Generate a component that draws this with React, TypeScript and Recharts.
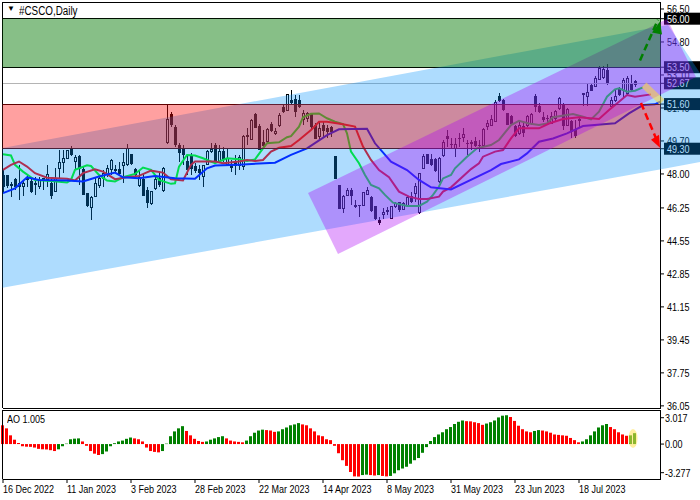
import { Area, Bar, Cell, ComposedChart, Line, ReferenceDot, ReferenceLine, XAxis, YAxis } from "recharts";

const opens = [
  47.90, 47.90, 47.44, 47.69, 47.52, 47.35, 47.78, 47.61, 47.50, 47.35,
  47.75, 47.69, 47.49, 47.09, 48.26, 48.59, 48.79, 49.24, 48.64, 48.90,
  48.21, 46.97, 46.27, 46.84, 47.40, 47.78, 47.95, 48.21, 48.24, 48.21,
  48.41, 48.47, 48.98, 48.24, 47.39, 47.69, 47.13, 46.49, 47.23, 47.78,
  47.13, 49.63, 51.04, 50.39, 49.45, 49.33, 48.64, 48.90, 48.38, 48.21,
  47.87, 48.47, 49.14, 49.45, 48.64, 49.15, 48.47, 48.47, 48.63, 48.41,
  48.38, 49.97, 49.78, 51.04, 50.47, 49.61, 49.66, 50.57, 50.06, 50.50,
  51.41, 51.29, 51.78, 51.84, 51.76, 50.78, 50.87, 51.04, 50.52, 49.92,
  50.52, 50.35, 50.38, 48.92, 47.40, 46.23, 46.91, 47.17, 46.36, 46.38,
  46.40, 46.95, 46.79, 46.31, 45.59, 45.92, 46.06, 45.71, 46.31, 46.52,
  46.18, 46.35, 46.86, 47.00, 46.00, 48.29, 48.98, 48.75, 48.72, 47.60,
  48.97, 49.92, 49.53, 49.32, 49.83, 49.89, 49.58, 49.62, 49.66, 49.49,
  49.49, 50.47, 50.52, 50.69, 51.98, 51.76, 51.12, 50.95, 50.43, 50.09,
  50.47, 50.52, 50.61, 51.98, 51.50, 50.90, 50.87, 50.61, 50.87, 51.38,
  51.55, 50.52, 50.69, 50.30, 50.78, 52.12, 51.98, 52.58, 52.50, 52.89,
  52.97, 53.35, 51.50, 51.81, 52.41, 52.32, 52.15, 52.63, 52.75,
];
const highs = [
  48.21, 47.95, 47.61, 47.78, 48.47, 47.69, 47.95, 47.78, 47.83, 47.83,
  47.78, 48.47, 47.78, 48.29, 49.24, 49.24, 49.24, 49.44, 48.98, 48.98,
  48.38, 47.01, 46.84, 47.78, 47.90, 48.21, 48.47, 48.76, 48.47, 48.62,
  49.07, 49.53, 49.04, 48.33, 48.21, 48.04, 47.35, 47.13, 47.83, 48.12,
  48.38, 51.56, 51.20, 50.53, 49.58, 49.50, 48.98, 49.07, 48.55, 48.47,
  48.47, 49.24, 49.58, 49.58, 49.50, 49.41, 49.33, 48.72, 48.98, 48.98,
  50.00, 50.35, 50.81, 51.12, 50.55, 50.26, 50.35, 50.69, 50.35, 51.12,
  51.55, 52.12, 52.32, 52.07, 52.07, 51.29, 51.21, 51.12, 50.61, 50.69,
  50.69, 50.52, 50.47, 48.92, 47.43, 46.92, 47.26, 47.26, 46.66, 46.40,
  47.09, 47.31, 46.86, 46.35, 45.76, 46.23, 46.31, 46.35, 46.57, 46.57,
  46.57, 46.92, 47.09, 47.52, 48.03, 49.03, 49.03, 49.03, 48.82, 48.86,
  49.75, 50.26, 49.83, 49.83, 50.09, 50.35, 49.75, 49.75, 49.89, 49.75,
  50.35, 50.78, 51.04, 51.81, 52.15, 51.84, 51.16, 51.04, 50.52, 50.69,
  50.69, 51.04, 51.12, 52.10, 51.64, 51.21, 51.04, 51.21, 51.29, 51.98,
  51.64, 51.38, 50.78, 50.78, 50.95, 52.18, 52.63, 52.67, 53.04, 53.56,
  53.56, 53.66, 51.98, 52.30, 52.50, 52.92, 53.04, 53.10, 52.84,
];
const lows = [
  47.01, 47.27, 46.80, 47.18, 46.66, 46.84, 47.35, 47.00, 46.92, 47.25,
  47.18, 47.35, 46.70, 47.09, 47.78, 48.04, 48.76, 48.90, 48.21, 47.44,
  46.92, 46.32, 45.63, 46.84, 47.27, 47.35, 47.83, 47.95, 48.04, 47.87,
  47.52, 48.42, 48.47, 47.87, 47.35, 46.84, 46.23, 46.40, 47.18, 47.35,
  47.08, 49.55, 50.44, 49.41, 48.64, 48.47, 47.95, 47.95, 48.04, 47.69,
  47.35, 48.47, 49.07, 48.55, 48.55, 48.64, 48.47, 48.12, 47.95, 48.20,
  48.20, 49.49, 49.75, 50.35, 49.27, 49.27, 49.58, 50.18, 50.00, 50.44,
  51.12, 51.26, 51.60, 50.95, 51.38, 50.52, 50.69, 50.26, 49.78, 49.78,
  49.92, 49.83, 49.92, 47.72, 46.18, 45.97, 46.88, 46.40, 46.23, 45.76,
  46.35, 46.92, 46.06, 45.63, 45.35, 45.66, 45.88, 45.71, 46.23, 46.06,
  46.14, 46.31, 46.49, 46.57, 45.92, 48.24, 48.51, 48.41, 48.12, 47.55,
  48.89, 49.40, 49.32, 48.89, 49.40, 49.66, 48.97, 49.23, 49.40, 49.14,
  49.46, 50.26, 50.47, 50.69, 51.72, 51.26, 50.52, 50.52, 49.92, 50.00,
  49.92, 50.43, 50.52, 51.21, 51.12, 50.69, 50.61, 50.57, 50.69, 51.29,
  50.26, 50.47, 49.83, 49.83, 50.43, 51.50, 51.50, 52.29, 52.46, 52.84,
  52.90, 52.58, 51.46, 51.70, 52.00, 51.98, 52.07, 52.24, 52.50,
];
const closes = [
  47.35, 47.39, 47.39, 47.35, 47.35, 47.52, 47.69, 47.09, 47.48, 47.66,
  47.72, 47.95, 46.87, 47.78, 48.59, 48.81, 49.20, 48.98, 48.86, 48.29,
  46.92, 46.35, 46.78, 47.49, 47.78, 48.04, 48.29, 48.67, 48.16, 48.04,
  48.59, 49.29, 48.55, 47.95, 47.83, 46.87, 46.53, 47.09, 47.69, 47.44,
  48.29, 50.78, 50.53, 49.50, 49.10, 48.98, 48.21, 48.29, 48.16, 48.07,
  48.41, 49.15, 49.27, 48.64, 49.15, 48.81, 48.81, 48.35, 48.41, 48.84,
  49.92, 49.95, 50.75, 50.40, 49.27, 49.49, 50.30, 50.26, 50.21, 50.99,
  51.21, 52.07, 51.67, 51.21, 51.47, 51.09, 51.12, 50.44, 49.83, 50.35,
  50.26, 50.18, 50.18, 47.77, 46.23, 46.86, 47.17, 46.88, 46.33, 46.36,
  47.05, 47.17, 46.11, 45.71, 45.49, 46.02, 46.11, 46.31, 46.49, 46.18,
  46.49, 46.79, 46.57, 47.35, 48.03, 48.89, 48.55, 48.51, 48.20, 48.80,
  49.61, 49.83, 49.50, 49.54, 49.85, 50.04, 49.57, 49.60, 49.46, 49.47,
  50.30, 50.61, 50.78, 51.67, 51.77, 51.33, 50.57, 50.61, 50.00, 50.52,
  50.12, 50.95, 51.04, 51.46, 51.21, 50.83, 50.85, 50.95, 51.21, 51.89,
  50.52, 51.33, 50.18, 50.00, 50.76, 52.14, 52.19, 52.32, 52.92, 53.41,
  53.39, 52.67, 51.81, 51.98, 52.07, 52.84, 52.92, 52.36, 52.63,
];

const greenBars = [0, 2, 3, 5, 7, 8, 12, 16, 17, 18, 21, 22, 24, 26, 28, 30, 33, 35, 37, 39, 42, 43, 44, 46, 48, 50, 53, 56, 59, 61, 63, 65, 66, 69, 71, 72, 74, 75, 77, 79, 81, 83, 85, 86, 87, 89, 90.5, 92, 94, 95.5, 97.5, 101, 104, 106, 107.5, 109, 110, 112, 113, 116, 118.5, 122, 124, 127, 129, 131.5, 134, 136, 137.5, 142.5, 145, 147, 149, 151, 153, 154, 156, 158, 160];
const greenValues = [49.02, 48.95, 48.47, 48.12, 47.83, 47.69, 47.64, 47.56, 47.69, 48.21, 48.45, 48.41, 47.95, 47.66, 47.61, 47.83, 48.00, 48.33, 48.21, 47.69, 47.49, 47.52, 48.38, 48.98, 48.95, 48.81, 48.55, 48.81, 48.76, 48.67, 48.75, 49.32, 49.58, 49.63, 49.89, 49.95, 50.44, 50.92, 51.10, 51.12, 50.87, 50.69, 50.57, 50.09, 49.15, 48.55, 47.95, 47.43, 47.26, 46.92, 46.52, 46.35, 46.35, 46.57, 46.92, 47.35, 47.77, 47.95, 48.29, 48.89, 49.32, 49.49, 49.75, 50.52, 50.74, 50.60, 50.52, 50.60, 50.92, 51.09, 50.95, 50.81, 51.21, 51.98, 52.36, 52.41, 52.24, 52.29, 52.46];
const redBars = [0, 2, 4, 6, 8, 11, 16, 18, 20, 23, 25, 28, 31, 34, 37, 40, 42, 45, 47, 48, 53, 55, 59, 61, 63, 65, 67, 69, 72, 74, 77, 79, 81, 85, 88, 89, 90, 92, 94, 96.5, 99, 101.5, 104, 106, 109, 110, 112, 117, 119, 120, 123, 125, 127, 129, 134, 136.5, 140, 144, 149, 151.5, 154, 156, 158, 162];
const redValues = [48.21, 48.47, 48.64, 48.38, 48.04, 47.81, 47.75, 47.66, 48.04, 48.24, 48.12, 47.73, 47.83, 47.90, 48.17, 48.07, 47.73, 47.66, 48.47, 48.64, 48.64, 48.55, 48.64, 48.72, 48.67, 48.72, 49.15, 49.35, 49.44, 49.75, 50.26, 50.69, 50.69, 50.56, 50.44, 49.92, 49.41, 48.72, 48.20, 47.83, 47.09, 46.83, 46.71, 46.71, 46.83, 47.09, 47.31, 48.25, 48.55, 48.89, 49.15, 49.23, 49.83, 50.35, 50.35, 50.60, 50.83, 50.92, 50.83, 51.29, 51.72, 52.07, 51.98, 52.10];
const blueBars = [0, 3, 6, 9, 16, 20, 24, 28, 30, 34, 38, 43, 48, 51, 53, 59, 68, 72, 76, 81, 84, 91, 93, 97, 101, 104, 107, 112, 122, 124.5, 129, 131, 134, 137.5, 141, 145, 153, 156.5, 160, 163, 164.25];
const blueValues = [47.01, 47.26, 47.83, 47.69, 47.66, 47.61, 47.87, 48.07, 47.83, 47.78, 47.90, 47.78, 47.75, 48.29, 48.43, 48.48, 48.58, 48.98, 49.32, 50.00, 50.30, 50.33, 49.58, 48.63, 48.20, 47.69, 47.31, 47.20, 48.20, 48.51, 48.75, 49.06, 49.66, 49.83, 50.09, 50.47, 50.61, 51.12, 51.55, 51.59, 51.72];

const aoValues = [
  2.15, 1.8, 1.0, 0.5, 0.12, -0.25, -0.3, -0.32, -0.4, -0.55,
  -0.6, -0.62, -0.7, -0.8, -0.6, -0.25, 0.05, 0.55, 0.62, 0.65,
  0.3, -0.2, -0.8, -1.1, -1.25, -1.15, -0.85, -0.25, 0.1, 0.3,
  0.4, 0.6, 0.75, 0.65, 0.55, 0.3, -0.4, -0.8, -0.9, -0.95,
  -0.8, 0.05, 0.9, 1.45, 1.8, 2.05, 1.5, 1.0, 0.6, 0.35,
  0.25, 0.3, 0.5, 0.65, 0.8, 0.9, 0.65, 0.4, 0.3, 0.25,
  0.2, 0.4, 0.9, 1.3, 1.55, 1.65, 1.6, 1.55, 1.4, 1.45,
  1.7, 1.9, 2.15, 2.25, 2.4, 2.25, 2.15, 1.8, 1.45, 1.0,
  0.9, 0.55, 0.45, -0.2, -1.05, -1.85, -2.5, -3.2, -3.7, -3.72,
  -3.55, -3.5, -3.55, -3.6, -3.55, -3.65, -3.7, -3.65, -3.35, -3.0,
  -2.8, -2.6, -2.25, -1.85, -1.6, -1.0, -0.35, 0.35, 0.8, 1.1,
  1.35, 1.7, 1.95, 2.3, 2.55, 2.7, 2.62, 2.6, 2.5, 2.4,
  2.2, 2.35, 2.5, 2.7, 3.05, 3.25, 3.3, 3.1, 2.65, 2.1,
  1.7, 1.45, 1.35, 1.5, 1.6, 1.55, 1.45, 1.3, 1.1, 1.05,
  1.0, 0.95, 0.7, 0.45, 0.2, 0.3, 0.55, 1.0, 1.45, 1.9,
  2.15, 2.3, 1.95, 1.7, 1.35, 1.1, 0.95, 1.0, 1.25,
];

const priceTicks = [56.5, 54.8, 53.1, 51.4, 49.7, 48.0, 46.25, 44.55, 42.85, 41.15, 39.45, 37.75, 36.05];
const levels = [56.0, 53.5, 52.67, 51.6, 49.3];
const aoTicks = [3.017, 0, -3.277];
const dateTickBars = [0, 16, 32, 48, 64, 80, 96, 112, 128, 144];
const dateTickLabels = ["16 Dec 2022", "11 Jan 2023", "3 Feb 2023", "28 Feb 2023", "22 Mar 2023", "14 Apr 2023", "8 May 2023", "31 May 2023", "23 Jun 2023", "18 Jul 2023"];

// drawn objects, corners read in bars and price
const blueChannelBars = [-0.125, 166.25, 174.25];
const blueChannelLow = [42.13, 48.31, 48.62];
const blueChannelHigh = [49.34, 55.68, 53.2];
const purpleChannelBars = [76.25, 83.75, 166, 173.25];
const purpleChannelLow = [47.02, 43.88, 52.25, 53.0];
const purpleChannelHigh = [47.02, 47.77, 55.98, 53.0];
const upArrowBars = [159.25, 163.75];
const upArrowPrices = [53.85, 55.95];
const downArrowBars = [159.5, 163.75];
const downArrowPrices = [51.65, 49.6];
const stripeBars = [160.25, 164.75];
const stripePrices = [52.58, 51.71];

const LEFT = -0.125;
const RIGHT = 164.375;
const FONT = "'Liberation Sans', sans-serif";
const SQUEEZE = 0.82; // no Tahoma here, so the labels are narrowed to its width
const xDomain: [number, number] = [-0.75, 174.25];
const priceDomain: [number, number] = [35.94, 56.86];
const aoDomain: [number, number] = [-4.0, 3.9];

const candleRows = opens.map((open, i) => ({ x: i, open, high: highs[i], low: lows[i], close: closes[i] }));
const aoRows = aoValues.map((ao, i) => ({ x: i, ao }));
const toRows = (bars: number[], values: number[]) => bars.map((x, i) => ({ x, v: values[i] }));
const toBand = (bars: number[], low: number[], high: number[]) => bars.map((x, i) => ({ x, range: [low[i], high[i]] }));
const flatBand = (low: number, high: number) => toBand([LEFT, RIGHT], [low, low], [high, high]);

function Label({ x, y, fill = "#000", children }: any) {
  return (
    <text transform={`translate(${x} ${y}) scale(${SQUEEZE} 1)`} fontFamily={FONT} fontSize={11} fill={fill}>
      {children}
    </text>
  );
}

function Candle(props: any) {
  const { x, y, width, height, payload } = props;
  const cx = Math.round(x + width / 2) + 0.5;
  const perUnit = height / (payload.high - payload.low);
  const top = y + (payload.high - Math.max(payload.open, payload.close)) * perUnit;
  const bottom = y + (payload.high - Math.min(payload.open, payload.close)) * perUnit;
  const up = payload.close >= payload.open;
  return (
    <g shapeRendering="crispEdges">
      <line x1={cx} x2={cx} y1={y} y2={y + height} stroke="#000" />
      <rect x={cx - 1} y={top} width={2} height={Math.max(bottom - top, 0.5)} fill={up ? "#fff" : "#000"} stroke="#000" />
    </g>
  );
}

function PriceTick(props: any) {
  const { y, payload } = props;
  const isLevel = levels.includes(payload.value);
  return (
    <g>
      <line x1={661} x2={664} y1={y} y2={y} stroke="#000" />
      {isLevel && <rect x={664} y={y - 6} width={36} height={12} fill="#000" />}
      <Label x={667} y={y + 4} fill={isLevel ? "#fff" : "#000"}>
        {payload.value.toFixed(2)}
      </Label>
    </g>
  );
}

function AoTick(props: any) {
  const { y, payload } = props;
  return (
    <g>
      <line x1={661} x2={664} y1={y} y2={y} stroke="#000" />
      <Label x={665} y={y + 4}>
        {payload.value === 0 ? "0.00" : payload.value.toFixed(3)}
      </Label>
    </g>
  );
}

function DateTick(props: any) {
  const { x, payload } = props;
  return (
    <g>
      <line x1={x} x2={x} y1={479} y2={483} stroke="#000" />
      <Label x={x} y={493}>
        {dateTickLabels[dateTickBars.indexOf(payload.value)]}
      </Label>
    </g>
  );
}

const frameSegment = (y: number) => [{ x: LEFT, y }, { x: RIGHT, y }];

export default function App() {
  return (
    <div style={{ position: "absolute", left: 0, top: 0, width: 700, height: 500, background: "#fff", overflow: "hidden" }}>
      {/* candles, averages and levels sit under the see-through objects */}
      <div style={{ position: "absolute", left: 0, top: 0 }}>
        <ComposedChart width={701} height={500} data={candleRows} margin={{ top: 2, right: 0, bottom: 92, left: 0 }}>
          <XAxis dataKey="x" type="number" domain={xDomain} allowDataOverflow hide />
          <YAxis orientation="right" width={1} domain={priceDomain} allowDataOverflow ticks={[...priceTicks, ...levels]} interval={0} axisLine={false} tickLine={false} tick={<PriceTick />} />
          <Bar dataKey={(d: any) => [d.low, d.high]} barSize={3} shape={<Candle />} isAnimationActive={false} />
          <Line data={toRows(greenBars, greenValues)} dataKey="v" stroke="#00ff00" strokeWidth={2} dot={false} isAnimationActive={false} />
          <Line data={toRows(redBars, redValues)} dataKey="v" stroke="#ff0000" strokeWidth={2} dot={false} isAnimationActive={false} />
          <Line data={toRows(blueBars, blueValues)} dataKey="v" stroke="#0000ff" strokeWidth={2} dot={false} isAnimationActive={false} />
          <ReferenceLine segment={frameSegment(52.67)} stroke="#b4b4b4" shapeRendering="crispEdges" />
          {[56.0, 53.5, 51.6, 49.3].map((level) => (
            <ReferenceLine key={level} segment={frameSegment(level)} stroke="#000" shapeRendering="crispEdges" />
          ))}
          <ReferenceLine x={LEFT} stroke="#000" shapeRendering="crispEdges" />
          <ReferenceLine x={RIGHT} stroke="#000" shapeRendering="crispEdges" />
          <ReferenceLine segment={frameSegment(priceDomain[1])} stroke="#000" shapeRendering="crispEdges" />
          <ReferenceLine segment={frameSegment(priceDomain[0])} stroke="#000" shapeRendering="crispEdges" />
        </ComposedChart>
      </div>

      <div style={{ position: "absolute", left: 0, top: 0 }}>
        <ComposedChart width={700} height={500} margin={{ top: 2, right: 0, bottom: 92, left: 0 }}>
          <XAxis dataKey="x" type="number" domain={xDomain} allowDataOverflow hide />
          <YAxis width={0} domain={priceDomain} allowDataOverflow hide />
          <Area data={toBand(blueChannelBars, blueChannelLow, blueChannelHigh)} dataKey="range" type="linear" stroke="none" fill="rgb(2,146,252)" fillOpacity={0.32} isAnimationActive={false} />
          <Area data={flatBand(49.3, 51.6)} dataKey="range" type="linear" stroke="none" fill="rgb(255,5,5)" fillOpacity={0.38} isAnimationActive={false} />
          <Area data={toBand(purpleChannelBars, purpleChannelLow, purpleChannelHigh)} dataKey="range" type="linear" stroke="none" fill="rgb(173,0,247)" fillOpacity={0.34} isAnimationActive={false} />
          <Area data={flatBand(53.5, 56.0)} dataKey="range" type="linear" stroke="none" fill="rgb(0,120,0)" fillOpacity={0.47} isAnimationActive={false} />
          <Line data={toRows(stripeBars, stripePrices)} dataKey="v" stroke="rgb(255,215,60)" strokeOpacity={0.55} strokeWidth={7} dot={false} isAnimationActive={false} />
          <Line data={toRows(upArrowBars, upArrowPrices)} dataKey="v" stroke="#008000" strokeWidth={2.5} strokeDasharray="7 4" dot={false} isAnimationActive={false} />
          <Line data={toRows(downArrowBars, downArrowPrices)} dataKey="v" stroke="#ff0000" strokeWidth={2.5} strokeDasharray="7 4" dot={false} isAnimationActive={false} />
          <ReferenceDot x={164.25} y={55.85} r={1} shape={(p: any) => <polygon points={`${p.cx},${p.cy} ${p.cx - 8},${p.cy + 11} ${p.cx + 2},${p.cy + 13}`} fill="#008000" />} />
          <ReferenceDot x={164.25} y={49.35} r={1} shape={(p: any) => <polygon points={`${p.cx},${p.cy} ${p.cx - 9},${p.cy - 8} ${p.cx - 1},${p.cy - 13}`} fill="#ff0000" />} />
        </ComposedChart>
      </div>

      <div style={{ position: "absolute", left: 0, top: 0 }}>
        <ComposedChart width={701} height={500} data={aoRows} margin={{ top: 410, right: 0, bottom: 0, left: 0 }}>
          <XAxis dataKey="x" type="number" domain={xDomain} allowDataOverflow ticks={dateTickBars} interval={0} height={21} axisLine={false} tickLine={false} tick={<DateTick />} />
          <YAxis orientation="right" width={1} domain={aoDomain} allowDataOverflow ticks={aoTicks} interval={0} axisLine={false} tickLine={false} tick={<AoTick />} />
          <Bar dataKey="ao" barSize={3} isAnimationActive={false}>
            {aoRows.map((row, i) => (
              <Cell key={row.x} fill={i > 0 && row.ao > aoValues[i - 1] ? "#008000" : "#ff0000"} />
            ))}
          </Bar>
          <ReferenceLine x={LEFT} stroke="#000" shapeRendering="crispEdges" />
          <ReferenceLine x={RIGHT} stroke="#000" shapeRendering="crispEdges" />
          <ReferenceLine segment={frameSegment(aoDomain[1])} stroke="#000" shapeRendering="crispEdges" />
          <ReferenceLine segment={frameSegment(aoDomain[0])} stroke="#000" shapeRendering="crispEdges" />
          <ReferenceDot x={157.5} y={0.63} r={1} shape={(p: any) => <ellipse cx={p.cx} cy={p.cy} rx={4.5} ry={9.5} fill="rgb(255,225,80)" fillOpacity={0.55} />} />
        </ComposedChart>
      </div>

      <div style={{ position: "absolute", left: 7, top: 4, font: `8px ${FONT}`, color: "#000" }}>▼</div>
      <div style={{ position: "absolute", left: 19, top: 4, font: `12px ${FONT}`, color: "#000", whiteSpace: "pre", transform: `scaleX(${SQUEEZE})`, transformOrigin: "left top" }}>#CSCO,Daily</div>
      <div style={{ position: "absolute", left: 7, top: 413, font: `11px ${FONT}`, color: "#000", whiteSpace: "pre", transform: `scaleX(${SQUEEZE})`, transformOrigin: "left top" }}>AO 1.005</div>
    </div>
  );
}
